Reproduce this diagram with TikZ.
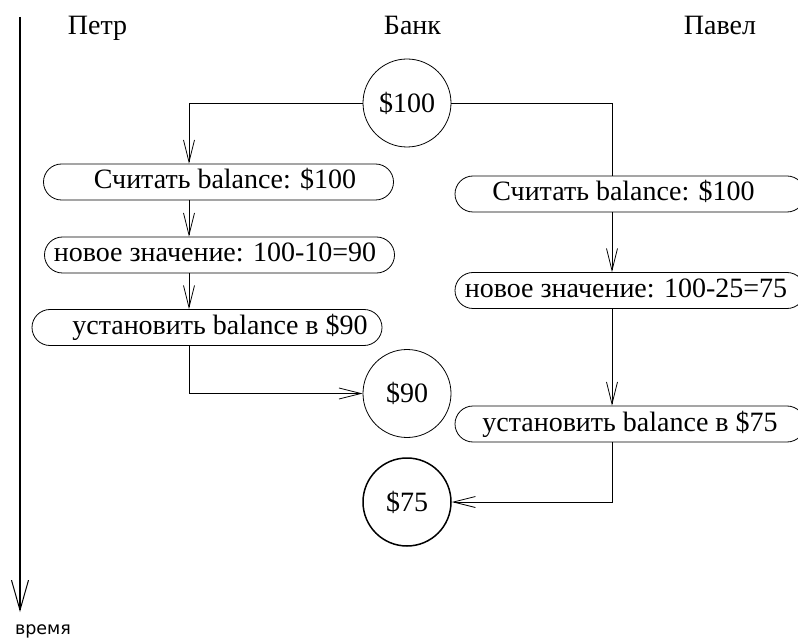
\documentclass[tikz,border=0pt]{standalone}
\usepackage{fontspec}
\setmainfont{Liberation Serif}
\newfontfamily\vremyafont{DejaVu Sans}
\usetikzlibrary{shapes.misc,arrows.meta,calc}
\begin{document}
\begin{tikzpicture}[x=1pt,y=-1pt,
  every node/.style={font=\fontsize{28}{32}\selectfont},
  box/.style={draw,rounded rectangle,minimum width=350pt,minimum height=36pt,
    inner sep=0pt,text height=20pt,text depth=6pt,line width=0.8pt},
  money/.style={draw,circle,minimum size=88pt,inner sep=0pt,line width=0.8pt},
  conn/.style={line width=0.8pt},
  arr/.style={conn,-{Straight Barb[length=22pt,width=11pt,line width=0.8pt]}},
  timearr/.style={line width=2pt,-{Straight Barb[length=30pt,width=17pt,line width=1pt]}},
  head/.style={anchor=base},
]
\useasboundingbox (0,0) rectangle (798,644);
\clip (0,0) rectangle (798,644);

% headers
\node[head] (petr) at (97.5,35) {Петр};
\node[head] (bank) at (412.5,35) {Банк};
\node[head] (pavel) at (720,35) {Павел};

% timeline
\coordinate (t0) at (20,17);
\coordinate (t1) at (20,612);
\draw[timearr] (t0) -- (t1);
\node[anchor=base,font=\vremyafont\fontsize{17.5}{21}\selectfont] (vremya) at (43,634) {время};

% bank states
\node[money] (c100) at (407,103) {\$100};
\node[money] (c90) at (407,393.5) {\$90};
\node[money,line width=1.5pt] (c75) at (407,502) {\$75};

% Petr steps
\node[box] (b1) at (218.5,182) {\hspace*{13pt}Считать balance: \$100};
\node[box] (b2) at (219.5,255) {новое значение: 100-10=90\hspace*{9pt}};
\node[box] (b3) at (207,327.5) {\hspace*{26pt}установить balance в \$90};

% Pavel steps
\node[box] (r1) at (630,194) {Считать balance: \$100\hspace*{13pt}};
\node[box] (r2) at (630,290.5) {новое значение: 100-25=75\hspace*{8pt}};
\node[box] (r3) at (630,424) {установить balance в \$75};

% connectors
\coordinate (lx) at (189,0);
\coordinate (rx) at (612,0);
\draw[arr] (c100.west) -| (lx |- b1.north);
\draw[arr] (lx |- b1.south) -- (lx |- b2.north);
\draw[arr] (lx |- b2.south) -- (lx |- b3.north);
\draw[arr] (lx |- b3.south) |- (c90.west);
\draw[conn] (c100.east) -| (rx |- r1.north);
\draw[arr] (rx |- r1.south) -- (rx |- r2.north);
\draw[arr] (rx |- r2.south) -- (rx |- r3.north);
\draw[arr] (rx |- r3.south) |- (c75.east);
\end{tikzpicture}
\end{document}
